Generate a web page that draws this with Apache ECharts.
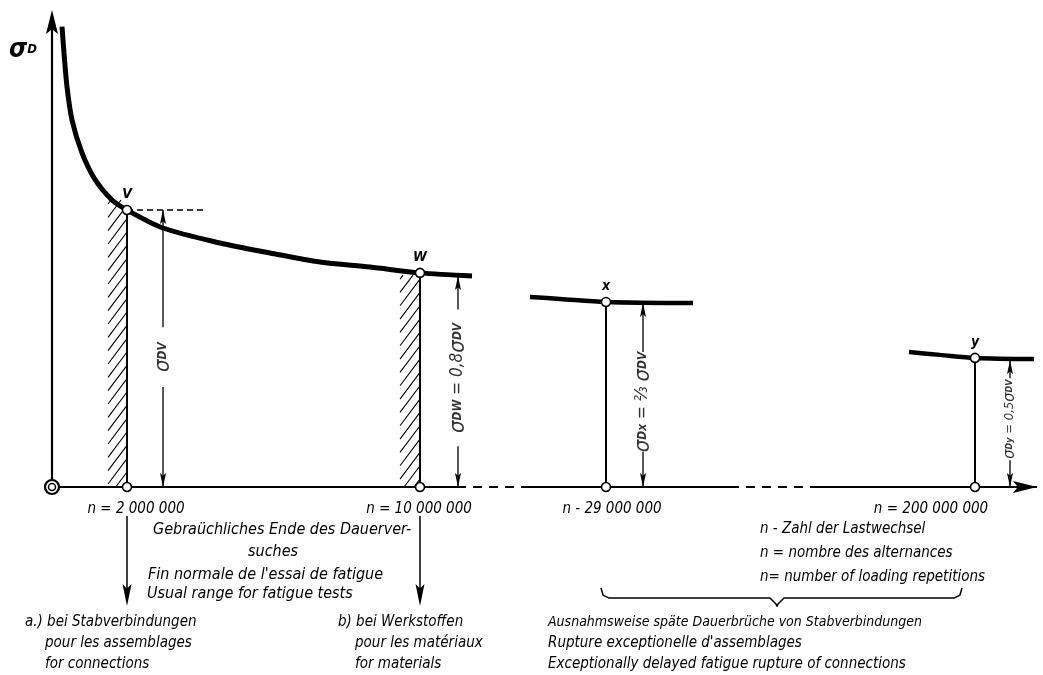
<!DOCTYPE html>
<html><head><meta charset="utf-8">
<script src="https://cdn.jsdelivr.net/npm/echarts@6/dist/echarts.min.js"></script>
<style>html,body{margin:0;padding:0;background:#fff}#c{width:1043px;height:675px}</style>
</head><body><div id="c"></div>
<script>
// ---------- DATA (x: schematic position along the n axis, s: stress relative to σDV) ----------
const curveX = [10, 12, 15, 20, 30, 43, 60, 75, 111, 168, 218, 268, 318, 368, 420];
const curveS = [1.662, 1.567, 1.445, 1.325, 1.206, 1.110, 1.036, 1.000, 0.935, 0.881, 0.845, 0.812, 0.794, 0.773, 0.762];
const segXx = [478, 508, 554, 641];
const segXs = [0.686, 0.679, 0.668, 0.664];
const segYx = [857, 888, 923, 982];
const segYs = [0.487, 0.477, 0.466, 0.462];
const pointNames = ['V', 'W', 'x', 'y'];
const pointX = [75, 368, 554, 923];
const pointS = [1.000, 0.773, 0.668, 0.466];
const nLabels = ['n = 2 000 000', 'n = 10 000 000', 'n - 29 000 000', 'n = 200 000 000'];
const dimX = [111, 406, 591, 958];
const dimTop = [1.000, 0.762, 0.664, 0.458];
const dimLabels = [
  '{s|σ}{b|DV}',
  '{s|σ}{b|DW}{t| = 0,8}{s|σ}{b|DV}',
  '{s|σ}{b|Dx}{t| = ⅔ }{s|σ}{b|DV}',
  '{s2|σ}{b2|Dy}{t2| = 0,5}{s2|σ}{b2|DV}'
];
const hatchX0 = [56, 348];
const hatchX1 = [75, 368];
const hatchTop = [1.036, 0.765];

// ---------- LAYOUT ----------
const PPU = 277;                 // pixels per unit of stress
const F = "'DejaVu Sans Condensed','Liberation Sans Narrow','DejaVu Sans',sans-serif";
const dimMid = [0.469, 0.394, 0.307, 0.245];
const dimGap = [0.108, 0.247, 0.180, 0.148];
const nLabelDx = [9, -1, 6, -44];
const axisSegs = [[0, 405, 'solid'], [405, 473, 'dashed'], [473, 678, 'solid'], [678, 758, 'dashed'], [758, 985, 'solid']];
const yAxisTop = 1.722, xAxisEnd = 985;
const dashEndV = 153;
const downArrowX = [75, 368], downArrowFrom = -0.105, downArrowTo = -0.43;
const brace = {from: 549, to: 910, tip: 725, y: -0.401};

const series = [];
function seg(pts, width, type, z) {
  const s = {type: 'line', data: pts, symbol: 'none', silent: true, clip: false, z: z || 2,
    lineStyle: {color: '#000', width: width, type: type || 'solid', cap: 'butt'}};
  series.push(s);
  return s;
}
// hatch
series.push({
  type: 'custom', silent: true, z: 1, clip: false,
  data: hatchX0.map((x, i) => [x, hatchX1[i], hatchTop[i]]),
  renderItem: function (params, api) {
    const a = api.coord([api.value(0), api.value(2)]);
    const b = api.coord([api.value(1), 0]);
    const x0 = a[0], x1 = b[0], y0 = a[1], y1 = b[1];
    const ch = [];
    const step = 10, k = 0.75; // lines x + k*y = c
    for (let c = x0 + k * y0 + 3; c < x1 + k * y1; c += step) {
      const xa = Math.max(x0, c - k * y1), xb = Math.min(x1, c - k * y0);
      if (xb <= xa) continue;
      ch.push({type: 'line', shape: {x1: xa, y1: (c - xa) / k, x2: xb, y2: (c - xb) / k}, style: {stroke: '#000', lineWidth: 1.1}});
    }
    return {type: 'group', children: ch};
  }
});
// curves
let s1 = seg(curveX.map((x, i) => [x, curveS[i]]), 5, 'solid', 3); s1.smooth = 0.3;
let s2 = seg(segXx.map((x, i) => [x, segXs[i]]), 4.5, 'solid', 3); s2.smooth = 0.3;
let s3 = seg(segYx.map((x, i) => [x, segYs[i]]), 4.5, 'solid', 3); s3.smooth = 0.3;
// axes
axisSegs.forEach(a => seg([[a[0], 0], [a[1], 0]], 2.2, a[2] === 'dashed' ? [9, 7] : 'solid'));
seg([[0, 0], [0, yAxisTop - 0.04]], 2.2);
// verticals
pointX.forEach((x, i) => seg([[x, 0], [x, pointS[i]]], 2));
seg([[pointX[0], pointS[0]], [dashEndV, pointS[0]]], 1.3, [6, 4]);
// dimension lines
dimX.forEach((x, i) => {
  seg([[x, dimTop[i]], [x, dimMid[i] + dimGap[i]]], 1.3);
  seg([[x, dimMid[i] - dimGap[i]], [x, 0]], 1.3);
});
// down arrows below axis
downArrowX.forEach(x => seg([[x, downArrowFrom], [x, downArrowTo + 0.03]], 1.5));
// brace
(function () {
  const h = 10 / PPU, r = 3 / PPU;
  const pts = [[brace.from, brace.y + h], [brace.from + 2, brace.y + r], [brace.from + 8, brace.y],
    [brace.tip - 7, brace.y], [brace.tip - 1, brace.y - r * 2], [brace.tip, brace.y - 0.03],
    [brace.tip + 1, brace.y - r * 2], [brace.tip + 7, brace.y],
    [brace.to - 8, brace.y], [brace.to - 2, brace.y + r], [brace.to, brace.y + h]];
  seg(pts, 1.5);
})();
// arrowheads
const arrowKinds = [[24, 12], [14, 6], [22, 9]]; // [length, width]
const arrowData = [[0, yAxisTop, 0, 0], [xAxisEnd, 0, 2, 0]];
dimX.forEach((x, i) => { arrowData.push([x, dimTop[i], 0, 1]); arrowData.push([x, 0, 1, 1]); });
downArrowX.forEach(x => arrowData.push([x, downArrowTo, 1, 2]));
series.push({
  type: 'custom', silent: true, z: 6, clip: false, data: arrowData,
  renderItem: function (params, api) {
    const p = api.coord([api.value(0), api.value(1)]);
    const d = api.value(2), k = arrowKinds[api.value(3)];
    const L = k[0], W = k[1], x = p[0], y = p[1];
    let pts;
    if (d === 0) pts = [[x, y], [x - W / 2, y + L], [x, y + L * 0.8], [x + W / 2, y + L]];
    else if (d === 1) pts = [[x, y], [x - W / 2, y - L], [x, y - L * 0.8], [x + W / 2, y - L]];
    else pts = [[x, y], [x - L, y - W / 2], [x - L * 0.8, y], [x - L, y + W / 2]];
    return {type: 'polygon', shape: {points: pts}, style: {fill: '#000'}};
  }
});
// dimension labels
const rich = {
  s: {fontSize: 22, fontStyle: 'italic', fontFamily: F, color: '#000'},
  b: {fontSize: 12, fontStyle: 'italic', fontWeight: 'bold', fontFamily: F, color: '#000'},
  t: {fontSize: 17, fontStyle: 'italic', fontFamily: F, color: '#000'},
  s2: {fontSize: 16, fontStyle: 'italic', fontFamily: F, color: '#000'},
  b2: {fontSize: 9, fontStyle: 'italic', fontWeight: 'bold', fontFamily: F, color: '#000'},
  t2: {fontSize: 13, fontStyle: 'italic', fontFamily: F, color: '#000'}
};
series.push({
  type: 'scatter', silent: true, z: 7, symbolSize: 0,
  data: dimX.map((x, i) => ({value: [x, dimMid[i]], label: {formatter: dimLabels[i]}})),
  label: {show: true, position: 'inside', rotate: 90, align: 'center', verticalAlign: 'middle', rich: rich}
});
// points on curves
series.push({
  type: 'scatter', silent: true, z: 10, symbol: 'circle', symbolSize: 9,
  itemStyle: {color: '#fff', borderColor: '#000', borderWidth: 1.6, opacity: 1},
  data: pointX.map((x, i) => ({value: [x, pointS[i]], label: {formatter: pointNames[i]}})),
  label: {show: true, position: 'top', distance: 3, fontFamily: F, fontStyle: 'italic', fontWeight: 'bold', fontSize: 14, color: '#000'}
});
// points on axis with n labels
series.push({
  type: 'scatter', silent: true, z: 10, symbol: 'circle', symbolSize: 9,
  itemStyle: {color: '#fff', borderColor: '#000', borderWidth: 1.6, opacity: 1},
  data: pointX.map((x, i) => ({value: [x, 0], label: {formatter: nLabels[i], offset: [nLabelDx[i], 0]}})),
  label: {show: true, position: 'bottom', distance: 9, fontFamily: F, fontStyle: 'italic', fontSize: 15, color: '#000'}
});
// origin
series.push({type: 'scatter', silent: true, z: 10, symbolSize: 14, data: [[0, 0]],
  itemStyle: {color: '#fff', borderColor: '#000', borderWidth: 2.2, opacity: 1}});
series.push({type: 'scatter', silent: true, z: 11, symbolSize: 7, data: [[0, 0]],
  itemStyle: {color: '#fff', borderColor: '#000', borderWidth: 1.5, opacity: 1}});

// text blocks
function txt(x, y, s, size) {
  return {type: 'text', x: x, y: y, z: 20, silent: true,
    style: {text: s, font: 'italic ' + (size || 15) + 'px ' + F, fill: '#000', align: 'left', verticalAlign: 'middle', textAlign: 'left', textVerticalAlign: 'middle'}};
}
const graphics = [
  {type: 'text', x: 9, y: 50, z: 20, silent: true, style: {text: '{s|σ}{d|D}', verticalAlign: 'middle', textVerticalAlign: 'middle',
    rich: {s: {fontSize: 26, fontStyle: 'italic', fontWeight: 'bold', fontFamily: F, fill: '#000'},
      d: {fontSize: 13, fontStyle: 'italic', fontWeight: 'bold', fontFamily: F, fill: '#000'}}}},
  txt(153, 530, 'Gebraüchliches Ende des Dauerver-', 16),
  txt(248, 552, 'suches', 16),
  txt(148, 575, "Fin normale de l'essai de fatigue", 16),
  txt(147, 594, 'Usual range for fatigue tests', 16),
  txt(25, 622, 'a.) bei Stabverbindungen', 15),
  txt(45, 643, 'pour les assemblages', 15),
  txt(45, 664, 'for connections', 15),
  txt(338, 622, 'b) bei Werkstoffen', 15),
  txt(355, 643, 'pour les matériaux', 15),
  txt(355, 664, 'for materials', 15),
  txt(760, 529, 'n - Zahl der Lastwechsel', 15),
  txt(760, 553, 'n = nombre des alternances', 15),
  txt(760, 577, 'n= number of loading repetitions', 15),
  txt(548, 622, 'Ausnahmsweise späte Dauerbrüche von Stabverbindungen', 14),
  txt(548, 643, "Rupture exceptionelle d'assemblages", 15),
  txt(548, 664, 'Exceptionally delayed fatigue rupture of connections', 15)
];

const chart = echarts.init(document.getElementById('c'), null, {renderer: 'canvas'});
chart.setOption({
  animation: false,
  backgroundColor: '#fff',
  grid: {left: 0, right: 0, top: 0, bottom: 0},
  xAxis: {type: 'value', min: -52, max: 991, show: false},
  yAxis: {type: 'value', min: -188 / PPU, max: 487 / PPU, show: false},
  series: series,
  graphic: graphics
});
</script>
</body></html>
